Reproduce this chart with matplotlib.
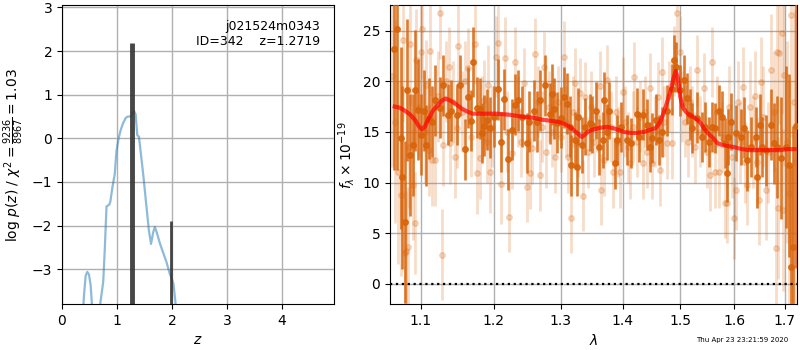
import matplotlib
matplotlib.use('Agg')
import matplotlib.pyplot as plt
from matplotlib.ticker import NullLocator

# redshift probability curve (left panel)
z_grid = [0.36, 0.40, 0.43, 0.46, 0.49, 0.52, 0.55, 0.60, 0.66, 0.70, 0.75, 0.78,
          0.81, 0.86, 0.88, 0.92, 0.96, 0.99, 1.03, 1.07, 1.11, 1.16, 1.20, 1.25,
          1.28, 1.31, 1.34, 1.37, 1.40, 1.44, 1.48, 1.54, 1.58, 1.62, 1.66, 1.69,
          1.73, 1.78, 1.84, 1.90, 1.96, 2.00, 2.03, 2.06, 2.10]
logp = [-4.5, -3.6, -3.15, -3.06, -3.12, -3.35, -3.9, -4.6, -4.6, -3.75, -3.29, -2.5,
        -1.56, -1.52, -1.45, -1.1, -0.82, -0.3, 0.0, 0.2, 0.34, 0.47, 0.50, 0.50,
        0.58, 0.63, 0.55, 0.07, 0.04, -0.4, -0.85, -1.6, -2.1, -2.42, -2.15, -2.03,
        -2.18, -2.4, -2.62, -2.83, -3.1, -3.22, -3.35, -3.7, -4.3]

# fine-grid peaks
peak_z = [1.27, 1.99]
peak_logp = [2.18, -1.89]
peak_width = [3.5, 2.0]

# spectrum, first grism (dark)
wave_a = [1.065, 1.069, 1.074, 1.075, 1.079, 1.082, 1.086, 1.089, 1.092, 1.096,
          1.100, 1.104, 1.106, 1.110, 1.114, 1.119, 1.126, 1.130, 1.136, 1.140,
          1.148, 1.152, 1.160, 1.164, 1.168, 1.171, 1.176, 1.181, 1.184, 1.186,
          1.191, 1.195, 1.200, 1.206, 1.211, 1.215, 1.221, 1.227, 1.231, 1.236,
          1.242, 1.249, 1.252, 1.260, 1.264, 1.269, 1.276, 1.283, 1.286, 1.290,
          1.294, 1.300, 1.306, 1.310, 1.314, 1.316, 1.323, 1.326, 1.328, 1.334,
          1.339, 1.346, 1.350, 1.357, 1.361, 1.367, 1.370, 1.375, 1.378, 1.387,
          1.391, 1.398, 1.407, 1.415, 1.424, 1.428, 1.434, 1.441, 1.446, 1.451,
          1.458, 1.462, 1.467, 1.476, 1.485, 1.488, 1.492, 1.499, 1.506, 1.512,
          1.517, 1.521, 1.530, 1.539, 1.545, 1.552, 1.558, 1.564, 1.571, 1.577,
          1.582, 1.586, 1.589, 1.594, 1.603, 1.613, 1.619, 1.625, 1.632, 1.642,
          1.644, 1.650, 1.654, 1.662, 1.672, 1.678, 1.684, 1.692, 1.702, 1.709,
          1.712, 1.717, 1.722]
flux_a = [23.2, 25.2, 14.4, 10.5, 6.1, 19.1, 12.7, 13.7, 19.1, 17.2,
          14.7, 17.1, 13.7, 16.3, 16.0, 18.1, 17.4, 19.6, 16.7, 17.1,
          16.7, 19.6, 13.3, 18.4, 16.1, 21.9, 17.4, 17.3, 14.9, 15.6,
          16.2, 15.4, 16.5, 19.2, 14.0, 18.2, 12.3, 15.2, 17.7, 18.1,
          16.5, 13.9, 16.0, 17.1, 16.0, 18.1, 19.6, 16.8, 18.7, 17.3,
          15.9, 16.4, 18.4, 17.8, 15.5, 11.7, 14.2, 11.5, 16.5, 13.7,
          15.5, 15.9, 15.7, 17.1, 13.5, 14.2, 18.1, 15.0, 17.1, 11.9,
          14.2, 15.5, 14.2, 13.9, 16.8, 14.5, 16.7, 15.7, 13.5, 14.4,
          16.2, 14.2, 15.0, 17.1, 19.2, 22.1, 21.4, 19.1, 20.1, 18.3,
          16.7, 15.4, 16.4, 14.5, 15.5, 14.0, 15.5, 15.4, 17.1, 16.5,
          13.9, 10.9, 14.5, 16.0, 14.9, 14.5, 15.4, 12.2, 13.5, 14.5,
          10.5, 15.7, 13.5, 13.2, 15.7, 13.9, 13.5, 12.4, 13.5, 11.7,
          1.7, 3.6, 15.6]
err_a = [12, 14, 9, 9, 8, 7, 6, 5, 6, 5,
         4, 4, 4, 4, 3.5, 3.5, 3, 3, 3, 3,
         3, 3, 3, 3, 3, 3.5, 3, 3, 3, 3,
         3, 3, 3, 3, 3, 3, 3, 3, 3, 3,
         3, 3, 3, 3, 3, 3, 3, 3, 3, 3,
         3, 3, 3, 3, 3, 3, 2.8, 2.8, 2.8, 2.8,
         2.8, 2.8, 2.8, 2.8, 2.8, 2.8, 2.8, 2.8, 2.8, 2.5,
         2.5, 2.5, 2.5, 2.5, 2.5, 2.5, 2.5, 2.5, 2.5, 2.5,
         2.5, 2.5, 2.5, 2.5, 2.5, 2.5, 2.5, 2.5, 2.5, 2.5,
         2.5, 2.5, 2.5, 2.5, 2.5, 2.5, 2.5, 2.5, 2.5, 2.5,
         2.5, 2.8, 2.8, 2.8, 2.8, 2.8, 3, 3, 3, 3,
         3, 3, 3, 3.5, 3.5, 4, 5, 6, 8, 9,
         10, 12, 14]

# spectrum, second grism (light)
wave_b = [1.063, 1.066, 1.070, 1.074, 1.076, 1.079, 1.081, 1.083, 1.085, 1.086,
          1.089, 1.092, 1.094, 1.097, 1.100, 1.102, 1.105, 1.107, 1.110, 1.112,
          1.115, 1.119, 1.122, 1.125, 1.128, 1.130, 1.134, 1.137, 1.139, 1.143,
          1.146, 1.148, 1.150, 1.155, 1.160, 1.164, 1.168, 1.174, 1.176, 1.180,
          1.183, 1.186, 1.190, 1.192, 1.194, 1.198, 1.203, 1.206, 1.211, 1.216,
          1.219, 1.222, 1.226, 1.231, 1.236, 1.240, 1.245, 1.249, 1.253, 1.256,
          1.261, 1.265, 1.269, 1.272, 1.275, 1.278, 1.282, 1.287, 1.292, 1.296,
          1.300, 1.306, 1.309, 1.312, 1.316, 1.320, 1.323, 1.327, 1.331, 1.336,
          1.339, 1.343, 1.348, 1.353, 1.358, 1.362, 1.365, 1.370, 1.375, 1.380,
          1.384, 1.389, 1.393, 1.396, 1.400, 1.404, 1.409, 1.413, 1.417, 1.420,
          1.425, 1.430, 1.434, 1.438, 1.442, 1.446, 1.451, 1.455, 1.460, 1.464,
          1.467, 1.471, 1.476, 1.480, 1.485, 1.489, 1.494, 1.499, 1.503, 1.508,
          1.514, 1.518, 1.522, 1.527, 1.531, 1.536, 1.543, 1.548, 1.554, 1.558,
          1.564, 1.568, 1.572, 1.577, 1.582, 1.586, 1.590, 1.596, 1.600, 1.603,
          1.608, 1.612, 1.617, 1.621, 1.625, 1.630, 1.636, 1.640, 1.645, 1.649,
          1.652, 1.657, 1.662, 1.667, 1.673, 1.678, 1.682, 1.684, 1.686, 1.688,
          1.694, 1.696, 1.699, 1.704, 1.708, 1.713, 1.718, 1.721]
flux_b = [20.5, 16.0, 11.0, 8.8, 24.1, 3.0, 3.2, 3.6, 13.5, 23.7,
          9.8, 6.0, 22.1, 17.5, 22.9, 25.2, 15.0, 19.6, 13.2, 23.0,
          12.2, 12.2, 18.5, 26.7, 2.9, 13.7, 20.0, 21.4, 13.9, 18.0,
          12.5, 15.4, 23.5, 17.0, 20.0, 21.3, 14.5, 23.7, 10.9, 12.4,
          16.5, 18.1, 14.0, 19.6, 11.0, 15.5, 22.4, 23.8, 9.9, 22.3,
          15.0, 6.6, 12.9, 21.9, 17.0, 14.0, 19.8, 9.6, 10.9, 13.4,
          22.7, 18.0, 10.7, 15.5, 21.4, 13.0, 17.5, 15.0, 12.5, 18.0,
          14.5, 22.4, 16.0, 12.5, 6.5, 17.0, 19.8, 14.0, 18.8, 8.7,
          18.4, 13.0, 17.5, 14.0, 16.5, 19.5, 9.3, 12.2, 20.1, 15.5,
          11.0, 17.0, 14.0, 11.0, 18.9, 16.0, 13.5, 11.9, 15.5, 20.4,
          14.0, 16.5, 11.9, 17.0, 13.0, 19.3, 11.9, 15.0, 18.4, 11.2,
          20.9, 16.0, 13.9, 18.5, 13.9, 22.0, 26.7, 22.9, 17.5, 16.0,
          14.0, 18.0, 16.0, 13.5, 21.1, 15.0, 19.3, 13.0, 10.7, 21.9,
          11.0, 17.0, 11.0, 14.5, 8.0, 8.0, 17.5, 12.5, 6.5, 9.3,
          18.0, 14.0, 19.4, 12.0, 9.8, 17.5, 14.0, 18.5, 12.0, 8.3,
          19.9, 16.5, 9.3, 13.0, 21.1, 17.0, 3.5, 22.9, 7.5, 22.8,
          24.8, 7.3, 20.6, 14.0, 9.0, 26.5, 18.0, 12.0]
err_b = [9, 10, 9, 8, 8, 7, 6, 6, 6, 6,
         5.5, 5, 5, 5, 5, 5, 5, 4.5, 4.5, 4.5,
         4.5, 4.5, 4.5, 4.5, 4.5, 4, 4, 4, 4, 4,
         4, 4, 4, 4, 4, 4, 4, 4, 4, 4,
         4, 4, 4, 4, 4, 4, 4, 4, 4, 4,
         4, 3.5, 3.5, 3.5, 3.5, 3.5, 3.5, 3.5, 3.5, 3.5,
         3.5, 3.5, 3.5, 3.5, 3.5, 3.5, 3.5, 3.5, 3.5, 3.5,
         3.5, 3.5, 3.5, 3.5, 3.5, 3.5, 3.5, 3.5, 3.5, 3.5,
         3.5, 3.5, 3.5, 3.5, 3.5, 3.5, 3.5, 3.5, 3.5, 3.5,
         3.5, 3.5, 3.5, 3.5, 3.5, 3.5, 3.5, 3.5, 3.5, 3.5,
         3.5, 3.5, 3.5, 3.5, 3.5, 3.5, 3.5, 3.5, 3.5, 3.5,
         3.5, 3.5, 3.5, 3.5, 3.5, 3.5, 3.5, 3.5, 3.5, 3.5,
         3.5, 3.5, 3.5, 3.5, 3.5, 3.5, 3.5, 3.5, 3.5, 3.5,
         3.5, 3.5, 3.5, 3.5, 3.5, 4, 4, 4, 4, 4,
         4, 4, 4, 4, 4, 4.5, 4.5, 4.5, 4.5, 4.5,
         4.5, 5, 5, 5, 5.5, 6, 8, 6, 7, 7,
         8, 8, 9, 10, 11, 12, 14, 15]

# best-fit model
wave_model = [1.066, 1.072, 1.079, 1.086, 1.092, 1.097, 1.101, 1.105, 1.110, 1.116,
              1.122, 1.128, 1.133, 1.139, 1.146, 1.155, 1.163, 1.170, 1.185, 1.203,
              1.222, 1.242, 1.258, 1.272, 1.285, 1.296, 1.306, 1.314, 1.320, 1.326,
              1.333, 1.338, 1.343, 1.350, 1.362, 1.375, 1.388, 1.402, 1.414, 1.424,
              1.436, 1.447, 1.457, 1.464, 1.470, 1.476, 1.483, 1.488, 1.492, 1.496,
              1.500, 1.504, 1.510, 1.516, 1.523, 1.531, 1.538, 1.545, 1.552, 1.560,
              1.568, 1.578, 1.588, 1.600, 1.615, 1.630, 1.645, 1.660, 1.675, 1.690,
              1.705, 1.720]
flux_model = [17.5, 17.4, 17.1, 16.7, 16.2, 15.6, 15.25, 15.5, 16.3, 17.1,
              17.6, 18.1, 18.3, 18.1, 17.8, 17.3, 17.0, 16.8, 16.8, 16.8,
              16.7, 16.5, 16.4, 16.2, 16.1, 16.0, 15.8, 15.5, 15.2, 14.9,
              14.5, 14.7, 15.0, 15.2, 15.4, 15.5, 15.3, 15.0, 14.9, 14.9,
              15.0, 15.2, 15.4, 15.9, 16.8, 17.8, 19.1, 20.3, 21.0, 20.3,
              18.5, 17.5, 17.0, 16.7, 16.5, 16.2, 15.8, 15.2, 14.8, 14.4,
              13.9, 13.7, 13.6, 13.5, 13.3, 13.2, 13.2, 13.2, 13.2, 13.2,
              13.3, 13.3]

fig = plt.figure(figsize=(8, 3.5), dpi=100)

# left: log p(z)
ax1 = fig.add_axes([0.0775, 0.131, 0.34, 0.854])
ax1.plot(z_grid, logp, color='tab:blue', alpha=0.5, lw=1.6)
ax1.vlines(peak_z, -10, peak_logp, colors='0.2', linewidths=peak_width, alpha=0.9)
ax1.set_xlim(0, 4.95)
ax1.set_ylim(-3.8, 3.05)
ax1.set_xticks([0, 1, 2, 3, 4])
ax1.set_yticks([-3, -2, -1, 0, 1, 2, 3])
ax1.grid(color='#b0b0b0', lw=1)
ax1.set_axisbelow(True)
ax1.set_xlabel('$z$')
ax1.set_ylabel(r'log $p(z)$ / $\chi^2=\frac{9236}{8967}=1.03$')
ax1.text(0.95, 0.95, 'j021524m0343\nID=342    z=1.2719', ha='right', va='top',
         transform=ax1.transAxes, fontsize=9)

# right: spectrum
ax2 = fig.add_axes([0.4875, 0.131, 0.5088, 0.854])
col = '#d8640a'
ax2.errorbar(wave_b, flux_b, yerr=err_b, color=col, marker='o', ms=4,
             linestyle='none', elinewidth=2.0, alpha=0.22, zorder=2)
ax2.errorbar(wave_a, flux_a, yerr=err_a, color=col, marker='o', ms=4,
             linestyle='none', elinewidth=1.9, alpha=0.85, zorder=3)
ax2.plot(wave_model, flux_model, color='r', lw=3, alpha=0.7, zorder=4)
ax2.axhline(0, color='k', ls=':', lw=1.6, zorder=5)
ax2.set_xscale('log')
ax2.set_xlim(1.06, 1.725)
ax2.set_ylim(-2, 27.5)
ax2.set_xticks([1.1, 1.2, 1.3, 1.4, 1.5, 1.6, 1.7])
ax2.set_xticklabels(['1.1', '1.2', '1.3', '1.4', '1.5', '1.6', '1.7'])
ax2.xaxis.set_minor_locator(NullLocator())
ax2.set_yticks([0, 5, 10, 15, 20, 25])
ax2.grid(color='#b0b0b0', lw=1)
ax2.set_axisbelow(True)
ax2.set_xlabel(r'$\lambda$')
ax2.set_ylabel(r'$f_\lambda\times10^{-19}$')

fig.text(0.985, 0.028, 'Thu Apr 23 23:21:59 2020', ha='right', va='center', fontsize=5)

fig.savefig('out.png', dpi=100)
